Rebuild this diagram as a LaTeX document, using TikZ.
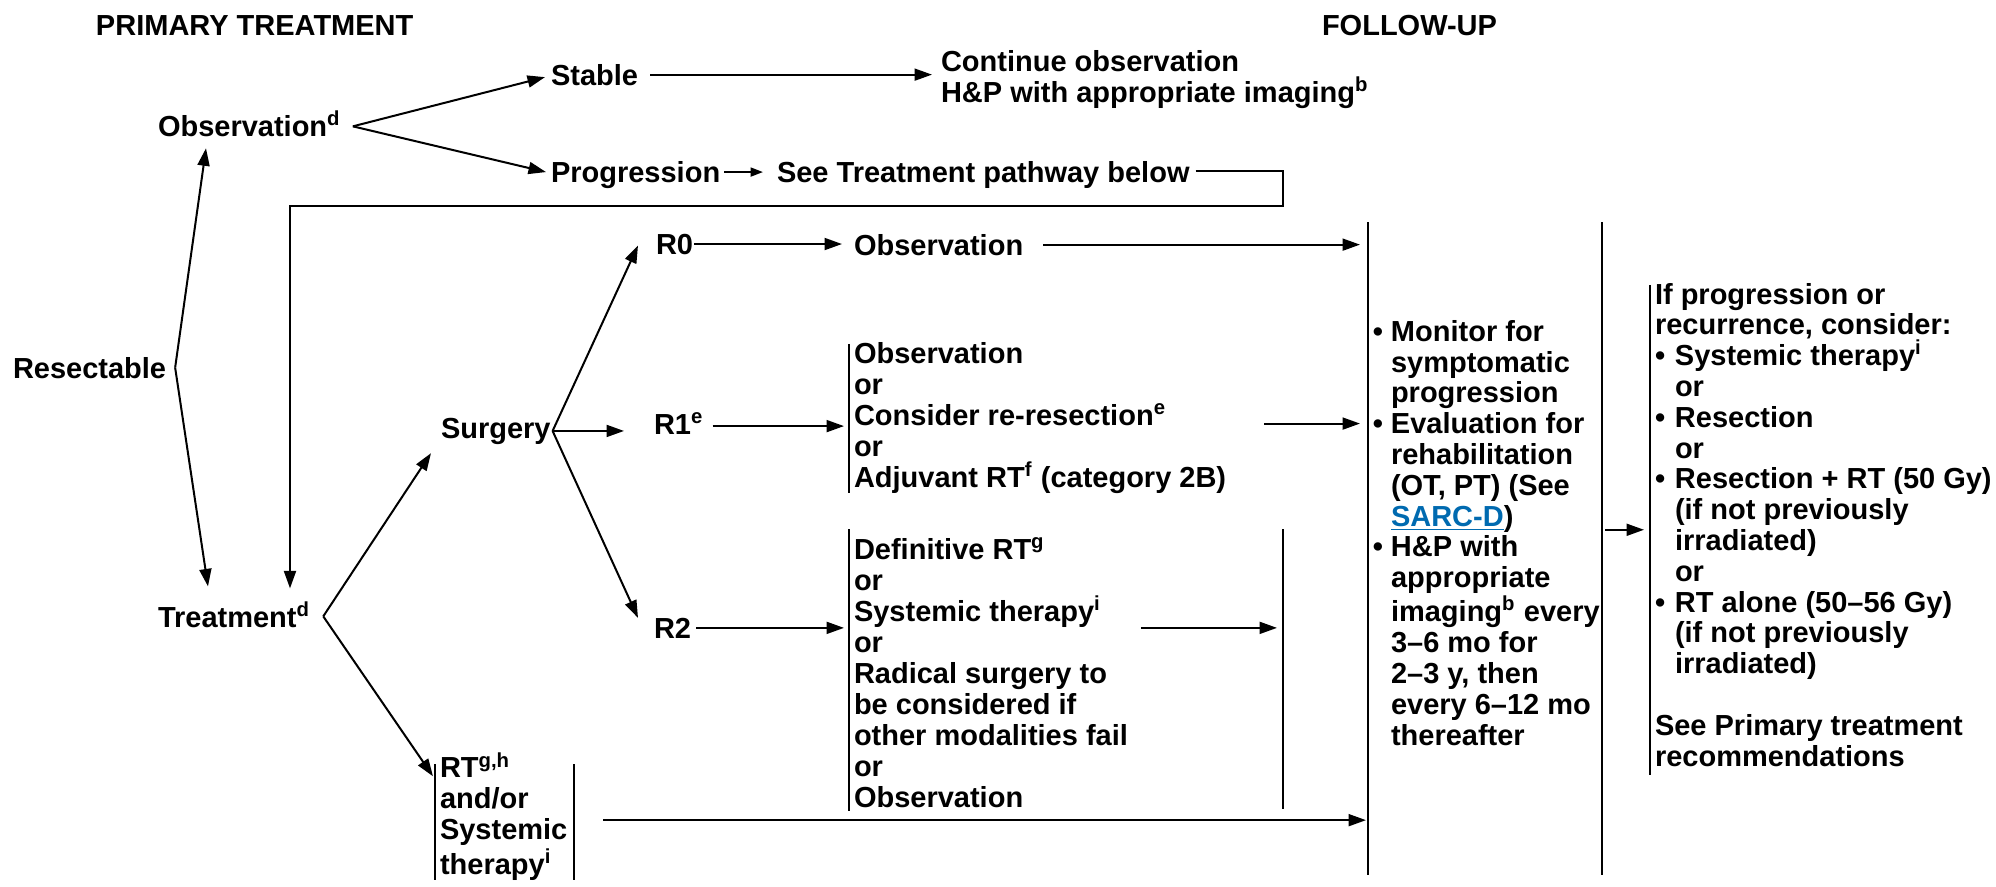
\documentclass[tikz,border=0pt]{standalone}
\usepackage{fontspec}
\setmainfont{Liberation Sans}
\usetikzlibrary{arrows.meta,calc}
\definecolor{linkblue}{RGB}{0,106,176}
\newcommand\bi{\makebox[8pt][l]{•}}
\newcommand\ind{\hspace*{8pt}}
\newcommand\hb{\llap{•\hspace{3.2pt}}}
\newcommand\su[1]{\textsuperscript{#1}}
\begin{document}
\begin{tikzpicture}[x=0.4pt,y=-0.4pt,
  every node/.style={inner sep=0pt, outer sep=0pt, anchor=base west, align=left},
  font=\bfseries\fontsize{11.6}{12.4}\selectfont,
  col/.style={font=\bfseries\fontsize{11.6}{12.32}\selectfont},
  line width=0.8pt,
  arr/.style={-{Triangle[length=7pt,width=4.8pt]}},
  sarr/.style={-{Triangle[length=5pt,width=3.6pt]}},
  bar/.style={line width=0.7pt}]
\useasboundingbox (0,0) rectangle (1996,887);

% headers
\node (pt) at (96,35) {PRIMARY TREATMENT};
\node (fu) at (1322,35) {FOLLOW-UP};

% nodes (multi-line nodes are placed at the baseline of their last line)
\node (obs) at (158,136) {Observation\su{d}};
\node (stable) at (551,85) {Stable};
\node (cont) at (941,102) {Continue observation\\H\&P with appropriate imaging\su{b}};
\node (prog) at (551,182) {Progression};
\node (seet) at (777,182) {See Treatment pathway below};
\node (res) at (13,378) {Resectable};
\node (treat) at (158,627) {Treatment\su{d}};
\node (surg) at (441,438) {Surgery};
\node (r0) at (656,254) {R0};
\node (obsr0) at (854,255) {Observation};
\node (r1) at (654,434) {R1\su{e}};
\node (r1box) at (854,487) {Observation\\or\\Consider re-resection\su{e}\\or\\Adjuvant RT\su{f} (category 2B)};
\node (r2) at (654,638) {R2};
\node (r2box) at (854,807) {Definitive RT\su{g}\\or\\Systemic therapy\su{i}\\or\\Radical surgery to\\be considered if\\other modalities fail\\or\\Observation};
\node (rtbox) at (440,874) {RT\su{g,h}\\and/or\\Systemic\\therapy\su{i}};
\node[col] (fubox) at (1391,745) {\hb Monitor for\\symptomatic\\progression\\\hb Evaluation for\\rehabilitation\\(OT, PT) (See\\{\color{linkblue}\underline{SARC-D}})\\\hb H\&P with\\appropriate\\imaging\su{b} every\\3–6 mo for\\2–3 y, then\\every 6–12 mo\\thereafter};
\node[col] (rbox) at (1655,766) {If progression or\\recurrence, consider:\\\bi Systemic therapy\su{i}\\\ind or\\\bi Resection\\\ind or\\\bi Resection + RT (50 Gy)\\\ind (if not previously\\\ind irradiated)\\\ind or\\\bi RT alone (50–56 Gy)\\\ind (if not previously\\\ind irradiated)\\[12.32pt]See Primary treatment\\recommendations};

% column bars
\coordinate (fuL1) at (1368,222);
\coordinate (fuL2) at (1368,875);
\coordinate (fuR1) at (1602,222);
\coordinate (fuR2) at (1602,875);
\draw[bar] (fuL1) -- (fuL2);
\draw[bar] (fuR1) -- (fuR2);
\draw[bar] ($(r1box.north west)+(-5,2)$) -- ($(r1box.south west)+(-5,0)$);
\draw[bar] ($(r2box.north west)+(-5,-8)$) -- ($(r2box.south west)+(-5,4)$);
\coordinate (r2R1) at ($(r2box.north west)+(429,-8)$);
\coordinate (r2R2) at ($(r2box.south west)+(429,2)$);
\draw[bar] (r2R1) -- (r2R2);
\draw[bar] ($(rtbox.north west)+(-5,12)$) -- ($(rtbox.south west)+(-5,0)$);
\draw[bar] ($(rtbox.north east)+(7,12)$) -- ($(rtbox.south east)+(7,0)$);
\draw[bar] ($(rbox.north west)+(-5,2)$) -- ($(rbox.south west)+(-5,9)$);

% observation branch
\coordinate (vobs) at ($(obs.east)+(12,3)$);
\draw[arr] (vobs) -- ($(stable.west)+(-6,2.5)$);
\draw[arr] (vobs) -- ($(prog.west)+(-5,-2.5)$);
\draw[arr] ($(stable.east)+(12,0)$) -- ($(stable.east -| cont.west)+(-9,0)$);
\draw[sarr] ($(prog.east)+(4,-2.5)$) -- ($(prog.east -| seet.west)+(-14,-2.5)$);
\coordinate (lpA) at (1283,206);
\coordinate (lpB) at (290,206);
\draw[arr] ($(seet.east)+(6,-4)$) -| (lpA) -- (lpB) -- ($(lpB |- treat.north)+(0,-13)$);

% resectable
\coordinate (vres) at ($(res.east)+(9,0)$);
\draw[arr] (vres) -- ($(obs.south west)+(48,12)$);
\draw[arr] (vres) -- ($(treat.north west)+(50,-15)$);

% treatment
\coordinate (vtreat) at ($(treat.east)+(13,2)$);
\draw[arr] (vtreat) -- ($(surg.south west)+(-10,9)$);
\draw[arr] (vtreat) -- ($(rtbox.north west)+(-7,24)$);

% surgery
\coordinate (vsurg) at ($(surg.east)+(2,0)$);
\draw[arr] (vsurg) -- ($(r0.west)+(-18,1.5)$);
\draw[arr] (vsurg) -- ($(vsurg -| r1.west)+(-30,0)$);
\draw[arr] (vsurg) -- ($(r2.west)+(-16,-10)$);

% results
\draw[arr] ($(r0.east)+(1,0)$) -- ($(r0.east -| obsr0.west)+(-12,0)$);
\draw[arr] ($(obsr0.east)+(20,0)$) -- ($(obsr0.east -| fuL1)+(-8,0)$);
\draw[arr] ($(r1.east)+(9,3)$) -- ($(r1.east -| r1box.west)+(-10,3)$);
\draw[arr] ($(r1box.east)+(38,6)$) -- ($(r1box.east -| fuL1)+(-8,6)$);
\draw[arr] ($(r2.east)+(5,0)$) -- ($(r2.east -| r2box.west)+(-10,0)$);
\draw[arr] ($(r2.east -| r2box.east)+(13,0)$) -- ($(r2.east -| r2R1)+(-6,0)$);
\draw[arr] ($(rtbox.east)+(36,4)$) -- ($(rtbox.east -| fuL1)+(-2,4)$);
\draw[arr] ($(fuR1 |- fubox.east)+(3,-3)$) -- ($(fubox.east -| rbox.west)+(-11,-3)$);
\end{tikzpicture}
\end{document}
